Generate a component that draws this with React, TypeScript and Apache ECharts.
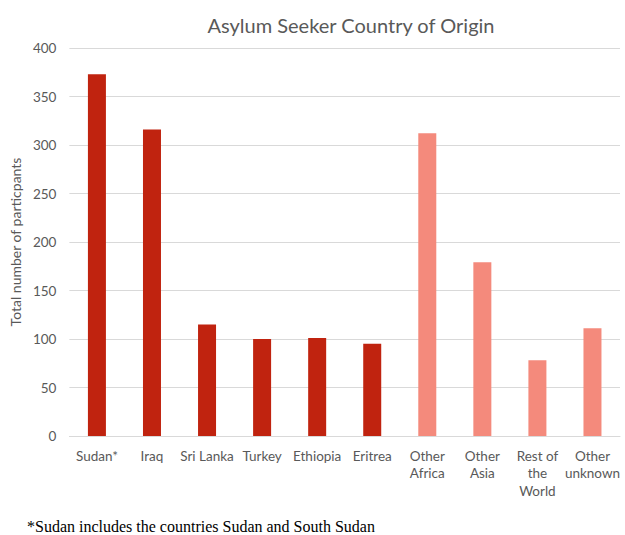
import React, { useEffect, useRef } from "react";
import * as echarts from "echarts";

const categories = ["Sudan*", "Iraq", "Sri Lanka", "Turkey", "Ethiopia", "Eritrea", "Other Africa", "Other Asia", "Rest of the World", "Other unknown"];
const values = [373, 316, 115, 100, 101, 95, 312, 179, 78, 111];
const groups = ["country", "country", "country", "country", "country", "country", "other", "other", "other", "other"];
const groupColors: Record<string, string> = { country: "#C0230F", other: "#F48A7C" };
const yTicks = { min: 0, max: 400, interval: 50 };
const title = "Asylum Seeker Country of Origin";
const yName = "Total number of particpants";
const footnote = "*Sudan includes the countries Sudan and South Sudan";

const FONT = "Lato, 'Open Sans', sans-serif";

export default function App() {
  const ref = useRef<HTMLDivElement>(null);
  useEffect(() => {
    document.body.style.margin = "0";
    const chart = echarts.init(ref.current!, null, { renderer: "svg" });
    chart.setOption({
      animation: false,
      backgroundColor: "#ffffff",
      title: {
        text: title,
        left: 346,
        textAlign: "center",
        top: 10,
        textStyle: { fontFamily: FONT, fontSize: 20, fontWeight: "normal", color: "#595959" },
      },
      grid: { left: 68, right: 5, top: 48, bottom: 99, containLabel: false },
      xAxis: {
        type: "category",
        data: categories,
        axisLine: { show: true, lineStyle: { color: "#d9d9d9", width: 1 } },
        axisTick: { show: false },
        axisLabel: {
          interval: 0,
          color: "#595959",
          fontFamily: FONT,
          fontSize: 13.5,
          lineHeight: 17.5,
          margin: 11,
          formatter: (v: string, i: number) => (groups[i] === "other" ? v.split(" ").join("\n").replace("Rest\nof", "Rest of") : v),
        },
      },
      yAxis: {
        type: "value",
        min: yTicks.min,
        max: yTicks.max,
        interval: yTicks.interval,
        name: yName,
        nameLocation: "middle",
        nameGap: 45,
        nameTextStyle: { color: "#595959", fontFamily: FONT, fontSize: 14 },
        axisLine: { show: false },
        axisTick: { show: false },
        axisLabel: { color: "#595959", fontFamily: FONT, fontSize: 13.5, margin: 13 },
        splitLine: { lineStyle: { color: "#d9d9d9", width: 1 } },
      },
      series: [
        {
          type: "bar",
          barWidth: 18,
          data: values.map((v, i) => ({ value: v, itemStyle: { color: groupColors[groups[i]] } })),
        },
      ],
      graphic: [
        {
          type: "text",
          left: 27,
          top: 518,
          style: {
            text: footnote,
            fontFamily: "'Liberation Serif', 'DejaVu Serif', serif",
            fontSize: 16,
            fill: "#000000",
          },
        },
      ],
    });
    return () => chart.dispose();
  }, []);
  return <div ref={ref} style={{ width: 625, height: 535 }} />;
}
